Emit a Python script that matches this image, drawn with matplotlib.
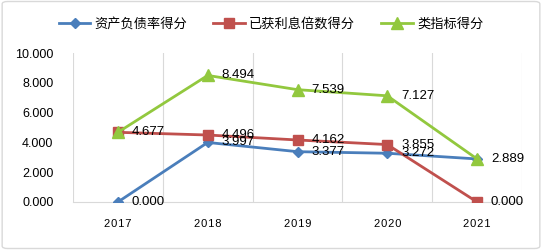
import matplotlib.pyplot as plt
import numpy as np
from matplotlib.patches import FancyBboxPatch

plt.rcParams['font.family'] = ['Noto Sans CJK SC', 'DejaVu Sans']

years = ["2017", "2018", "2019", "2020", "2021"]
debt_ratio = [0.000, 3.997, 3.377, 3.272, 2.889]
interest_cover = [4.677, 4.496, 4.162, 3.855, 0.000]
category_score = [4.677, 8.494, 7.539, 7.127, 2.889]
series_names = ["资产负债率得分", "已获利息倍数得分", "类指标得分"]
y_ticks = [0, 2, 4, 6, 8, 10]

num_font = ["Liberation Sans", "DejaVu Sans"]

fig = plt.figure(figsize=(5.42, 2.5), dpi=100)
ax = fig.add_axes([73 / 542, 1 - 202 / 250, (522 - 73) / 542, (202 - 53) / 250])

x = np.arange(len(years))
styles = [
    (debt_ratio, "#4A7EBB", "D", 5.5),
    (interest_cover, "#C0504D", "s", 7),
    (category_score, "#92C83E", "^", 8.5),
]

lines = []
labelled = set()
for (vals, color, marker, ms), name in zip(styles, series_names):
    ln, = ax.plot(x, vals, color=color, lw=2, marker=marker, ms=ms,
                  markeredgecolor=color, label=name, zorder=3)
    lines.append(ln)
    for xi, v in zip(x, vals):
        # identical labels at the same point are shown only once
        if (xi, v) in labelled:
            continue
        labelled.add((xi, v))
        ax.annotate(f"{v:.3f}", (xi, v), textcoords="offset points",
                    xytext=(10, 0), va="center", ha="left", fontsize=9.5,
                    family=num_font, zorder=4)

ax.set_xlim(-0.5, len(years) - 0.5)
ax.set_ylim(0, 10)
ax.set_yticks(y_ticks)
ax.set_yticklabels([f"{t:.3f}" for t in y_ticks], fontsize=9, family=num_font)
ax.set_xticks(x)
ax.set_xticklabels(["\u200a".join(y) for y in years], fontsize=8, family=num_font)
for b in np.arange(-0.5, len(years), 1.0):
    ax.axvline(b, color="#D9D9D9", lw=0.8, zorder=0)
for s in ["top", "right", "left"]:
    ax.spines[s].set_visible(False)
ax.spines["bottom"].set_color("#D9D9D9")
ax.tick_params(length=0)
ax.tick_params(axis="x", pad=12)
ax.tick_params(axis="y", pad=14)
ax.set_facecolor("none")

fig.legend(handles=lines, loc="center", bbox_to_anchor=(0.5, 0.905), ncol=3,
           frameon=False, fontsize=9.5, handlelength=2.4, columnspacing=2.0,
           handletextpad=0.3)

border = FancyBboxPatch((0.004, 0.006), 0.992, 0.988, boxstyle="round,pad=0,rounding_size=0.01",
                        transform=fig.transFigure, fill=False, edgecolor="#D9D9D9", lw=1)
fig.patches.append(border)

fig.savefig("out.png", dpi=100)
